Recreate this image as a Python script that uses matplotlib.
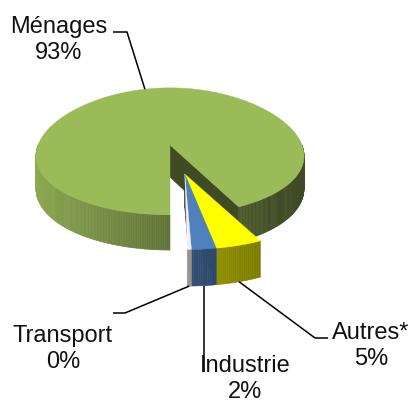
import numpy as np
import matplotlib.pyplot as plt
from matplotlib.patches import Polygon
from matplotlib.colors import to_rgb

plt.rcParams['font.family'] = ['Liberation Sans', 'DejaVu Sans']

# energy use by sector (%)
categories = ['Ménages', 'Autres*', 'Industrie', 'Transport']
shares = [92.6, 4.6, 2.4, 0.4]
colors = ['#9BBB59', '#FFFF00', '#4F81BD', '#F6F0F3']
exploded = [False, True, True, True]

# label centres and leader elbows (pixels); None keeps the anchor's x
label_xy = [(59, 40), (371, 346), (245, 379), (63, 349)]
leader_pts = [[(127, 32), (113, 32)],
              [(315, 338), (328, 338)],
              [(None, 372)],
              [(125, 313), (113, 313)]]

# projection of the 3-D pie onto the image
CX, CY = 170, 145
A, B, H = 132, 63.5, 32
KX, KY = 0.18, 0.1   # perspective: nearer points drawn bigger
EXPLODE = 0.45
START = 270          # first slice ends at the bottom, slices run clockwise


def proj(X, Y, Z):
    return CX + A * X * (1 - KX * Y), CY - (B * Y + H * Z) * (1 - KY * Y)


def shade(col, f):
    return tuple(min(1, c * f) for c in to_rgb(col))


def side_factor(t):
    return max(0.4, 0.62 - 0.3 * np.cos(t))


def draw_slice(ax, t1, t2, off, col):
    ox, oy = off

    def pt(r, t, z):
        return proj(ox + r * np.cos(t), oy + r * np.sin(t), z)

    # cut faces
    for t, sgn in ((t1, -1), (t2, 1)):
        if np.sin(t + sgn * np.pi / 2) < -1e-6:
            c = shade(col, 0.4)
            ax.add_patch(Polygon([pt(0, t, 0), pt(1, t, 0), pt(1, t, -1), pt(0, t, -1)],
                                 closed=True, fc=c, ec=c, lw=0.4))
    # outer wall, in thin strips so the shading follows the angle
    n = max(3, int(np.degrees(t2 - t1) * 1.5))
    ts = np.linspace(t1, t2, n)
    for a0, a1 in zip(ts[:-1], ts[1:]):
        m = (a0 + a1) / 2
        if np.sin(m) >= 0:
            continue
        c = shade(col, side_factor(m))
        ax.add_patch(Polygon([pt(1, a0, 0), pt(1, a1, 0), pt(1, a1, -1), pt(1, a0, -1)],
                             closed=True, fc=c, ec=c, lw=0.4))
    # top face
    arc = [pt(1, t, 0) for t in ts]
    ax.add_patch(Polygon([pt(0, t1, 0)] + arc, closed=True, fc=col, ec=col, lw=0.3))


fig = plt.figure(figsize=(4.12, 4.03), dpi=100)
ax = fig.add_axes([0, 0, 1, 1])
ax.set_xlim(0, 412)
ax.set_ylim(403, 0)
ax.axis('off')

total = sum(shares)
spans = [np.radians(360 * s / total) for s in shares]
ends = np.radians(START) - np.concatenate([[0], np.cumsum(spans)[:-1]])
starts = ends - np.array(spans)

grp = [i for i, e in enumerate(exploded) if e]
bis = (min(starts[i] for i in grp) + max(ends[i] for i in grp)) / 2
off_vec = (EXPLODE * np.cos(bis), EXPLODE * np.sin(bis))

for i in range(len(categories)):
    off = off_vec if exploded[i] else (0, 0)
    draw_slice(ax, starts[i], ends[i], off, colors[i])

for i, name in enumerate(categories):
    mid = (starts[i] + ends[i]) / 2
    off = off_vec if exploded[i] else (0, 0)
    z = 0 if not exploded[i] else -1
    ax_x, ax_y = proj(off[0] + np.cos(mid), off[1] + np.sin(mid), z)
    xs, ys = [ax_x], [ax_y]
    for px, py in leader_pts[i]:
        xs.append(ax_x if px is None else px)
        ys.append(py)
    ax.plot(xs, ys, color='black', lw=1.1, solid_capstyle='butt')
    ax.text(*label_xy[i], f"{name}\n{round(shares[i])}%", ha='center', va='center',
            fontsize=17, linespacing=1.2, color='#111111')

fig.savefig('out.png', dpi=100)
